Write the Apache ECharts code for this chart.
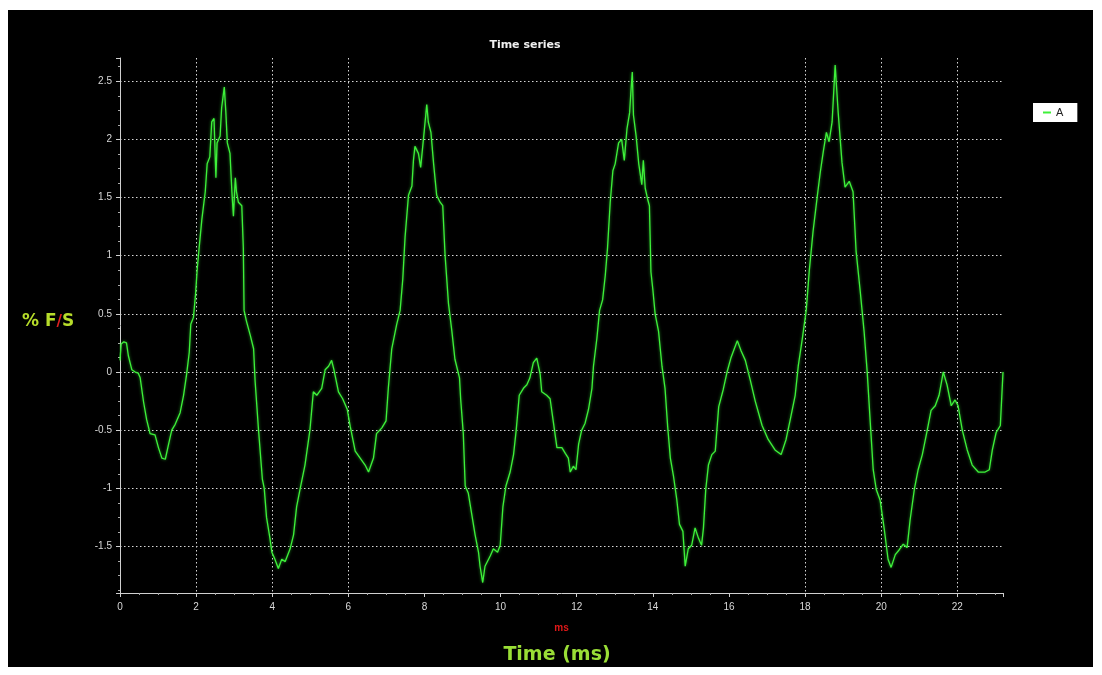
<!DOCTYPE html>
<html><head><meta charset="utf-8">
<script src="https://cdn.jsdelivr.net/npm/echarts@6/dist/echarts.min.js"></script>
<style>
html,body{margin:0;padding:0;background:#fff;width:1102px;height:675px;overflow:hidden}
#c{position:absolute;left:8px;top:10px;width:1085px;height:657px;}
</style>
</head><body><div id="c"></div>
<script>
const chartTitle = 'Time series';
const seriesName = 'A';
const xAxisName = 'ms';
const xTitle = 'Time (ms)';
const xTickValues = [0, 2, 4, 6, 8, 10, 12, 14, 16, 18, 20, 22];
const yTickValues = [-1.5, -1, -0.5, 0, 0.5, 1, 1.5, 2, 2.5];
const xRange = [0, 23.2];
const yRange = [-1.9, 2.7];

const timeMs = [
0.00,0.03,0.10,0.17,0.22,0.31,0.40,0.48,0.53,0.62,0.70,0.79,0.92,1.01,1.10,1.19,1.27,1.36,1.45,1.58,
1.67,1.75,1.82,1.86,1.93,1.98,2.03,2.08,2.15,2.24,2.29,2.36,2.41,2.47,2.52,2.55,2.63,2.67,2.74,2.78,
2.82,2.89,2.94,2.98,3.03,3.06,3.11,3.20,3.24,3.26,3.32,3.42,3.51,3.55,3.64,3.74,3.79,3.85,3.94,3.99,
4.07,4.16,4.25,4.34,4.47,4.56,4.64,4.73,4.86,4.99,5.08,5.17,5.30,5.39,5.48,5.56,5.62,5.74,5.85,5.97,
6.05,6.18,6.31,6.44,6.53,6.66,6.74,6.88,6.99,7.05,7.14,7.27,7.36,7.43,7.49,7.58,7.67,7.71,7.75,7.84,
7.90,7.99,8.06,8.10,8.17,8.24,8.32,8.41,8.48,8.54,8.63,8.72,8.80,8.92,8.95,9.02,9.07,9.15,9.24,9.33,
9.42,9.46,9.53,9.59,9.73,9.81,9.92,9.99,10.06,10.14,10.25,10.34,10.41,10.49,10.60,10.69,10.77,10.86,10.95,11.04,
11.08,11.21,11.30,11.39,11.48,11.61,11.70,11.78,11.83,11.91,11.98,12.05,12.13,12.22,12.31,12.40,12.44,12.53,12.60,12.68,
12.75,12.81,12.88,12.95,13.01,13.10,13.18,13.25,13.32,13.39,13.42,13.46,13.49,13.56,13.63,13.71,13.75,13.80,13.86,13.91,
13.95,14.00,14.06,14.15,14.24,14.32,14.39,14.46,14.54,14.63,14.70,14.79,14.85,14.93,15.02,15.11,15.20,15.28,15.33,15.39,
15.46,15.55,15.64,15.73,15.85,15.95,16.05,16.14,16.22,16.32,16.43,16.56,16.69,16.87,17.03,17.21,17.37,17.50,17.61,17.74,
17.82,17.92,18.03,18.11,18.21,18.32,18.40,18.48,18.56,18.63,18.71,18.79,18.87,18.97,19.05,19.16,19.26,19.34,19.45,19.55,
19.63,19.71,19.79,19.87,19.97,20.08,20.18,20.26,20.37,20.47,20.58,20.68,20.76,20.87,20.97,21.08,21.21,21.31,21.42,21.52,
21.63,21.73,21.84,21.94,22.02,22.13,22.26,22.39,22.55,22.73,22.84,22.92,23.02,23.13,23.20
];
const valueFS = [
0.10,0.24,0.26,0.25,0.14,0.02,0.00,-0.01,-0.05,-0.26,-0.41,-0.53,-0.54,-0.65,-0.74,-0.75,-0.63,-0.50,-0.45,-0.35,
-0.20,-0.02,0.17,0.41,0.47,0.65,0.89,1.07,1.31,1.55,1.79,1.85,2.15,2.18,1.67,1.97,2.03,2.27,2.45,2.24,
1.97,1.88,1.55,1.34,1.67,1.55,1.46,1.43,1.07,0.53,0.44,0.32,0.20,-0.08,-0.50,-0.92,-1.00,-1.25,-1.43,-1.55,
-1.61,-1.69,-1.61,-1.63,-1.52,-1.40,-1.16,-1.01,-0.80,-0.50,-0.17,-0.20,-0.14,0.02,0.05,0.10,0.02,-0.17,-0.23,-0.32,
-0.47,-0.68,-0.74,-0.80,-0.86,-0.74,-0.53,-0.48,-0.42,-0.14,0.20,0.41,0.53,0.80,1.16,1.52,1.60,1.82,1.94,1.88,
1.76,2.06,2.30,2.15,2.06,1.79,1.52,1.46,1.43,1.01,0.59,0.35,0.11,-0.05,-0.23,-0.53,-0.98,-1.04,-1.22,-1.40,
-1.55,-1.67,-1.81,-1.67,-1.58,-1.52,-1.55,-1.49,-1.16,-0.98,-0.86,-0.71,-0.50,-0.20,-0.14,-0.11,-0.05,0.08,0.12,-0.02,
-0.17,-0.20,-0.23,-0.44,-0.65,-0.65,-0.70,-0.74,-0.86,-0.81,-0.84,-0.62,-0.50,-0.44,-0.32,-0.14,0.05,0.29,0.53,0.62,
0.83,1.07,1.46,1.73,1.79,1.97,2.00,1.82,2.09,2.23,2.39,2.58,2.21,2.03,1.79,1.61,1.82,1.58,1.49,1.43,
0.86,0.71,0.50,0.35,0.05,-0.14,-0.47,-0.74,-0.89,-1.10,-1.31,-1.37,-1.67,-1.52,-1.49,-1.34,-1.43,-1.49,-1.34,-1.01,
-0.80,-0.71,-0.68,-0.30,-0.15,0.00,0.12,0.20,0.27,0.18,0.10,-0.07,-0.25,-0.46,-0.58,-0.67,-0.71,-0.58,-0.41,-0.20,
0.05,0.27,0.53,0.87,1.21,1.51,1.72,1.90,2.06,1.98,2.15,2.64,2.23,1.80,1.59,1.64,1.55,1.04,0.69,0.35,
0.01,-0.42,-0.84,-1.01,-1.10,-1.35,-1.61,-1.68,-1.57,-1.53,-1.48,-1.51,-1.27,-1.01,-0.84,-0.71,-0.50,-0.33,-0.29,-0.20,
0.00,-0.11,-0.29,-0.24,-0.29,-0.50,-0.67,-0.80,-0.86,-0.86,-0.84,-0.67,-0.52,-0.46,0.00
];
// vertical grid lines visible in the reference (middle ones are not drawn)
const xGridVisible = [false, true, true, true, false, false, false, false, false, true, true, true, false];

const points = timeMs.map((t, i) => [t, valueFS[i]]);
const gridColor = '#d6d6d6';
const chart = echarts.init(document.getElementById('c'));
const isTick = (v, list) => list.some(t => Math.abs(t - v) < 1e-6);

chart.setOption({
  backgroundColor: '#000',
  animation: false,
  grid: { left: 112, top: 48, right: 90, bottom: 74, containLabel: false },
  legend: {
    data: [seriesName], left: 1025, top: 93, backgroundColor: '#fff',
    padding: [4, 14, 4, 10], borderRadius: 0,
    icon: 'rect', itemWidth: 8, itemHeight: 2, itemGap: 4,
    textStyle: { color: '#222', fontSize: 11, fontFamily: 'Liberation Sans' }
  },
  xAxis: {
    type: 'value', min: xRange[0], max: xRange[1], interval: 2,
    name: xAxisName, nameLocation: 'middle', nameGap: 30,
    nameTextStyle: { color: '#e01818', fontSize: 10, fontWeight: 'bold', fontFamily: 'Liberation Sans' },
    axisLine: { show: true, onZero: false, lineStyle: { color: '#d0d0d0', width: 1 } },
    axisTick: { show: true, length: 4, lineStyle: { color: '#d0d0d0' } },
    minorTick: { show: true, splitNumber: 4, length: 2, lineStyle: { color: '#aaa' } },
    axisLabel: {
      color: '#d8d8d8', fontSize: 10, fontFamily: 'Liberation Sans', margin: 9,
      formatter: v => isTick(v, xTickValues) ? String(v) : ''
    },
    splitLine: { show: true, lineStyle: {
      color: xGridVisible.map(s => s ? gridColor : 'rgba(0,0,0,0)'), type: [1.5, 2.5], width: 1 } }
  },
  yAxis: {
    type: 'value', min: yRange[0], max: yRange[1], splitNumber: 9,
    axisLine: { show: true, onZero: false, lineStyle: { color: '#d0d0d0', width: 1 } },
    axisTick: { show: true, length: 4, lineStyle: { color: '#d0d0d0' } },
    minorTick: { show: true, splitNumber: 4, length: 2, lineStyle: { color: '#aaa' } },
    axisLabel: {
      color: '#d8d8d8', fontSize: 10, fontFamily: 'Liberation Sans', margin: 8,
      formatter: v => isTick(v, yTickValues) ? String(v) : ''
    },
    splitLine: { show: true, showMinLine: false, showMaxLine: false,
      lineStyle: { color: gridColor, type: [1.5, 2.5], width: 1 } }
  },
  graphic: [
    { type: 'text', x: 517, y: 35, style: { text: chartTitle, fill: '#f0f0f0',
      font: 'bold 11px "DejaVu Sans"', align: 'center', verticalAlign: 'middle' } },
    { type: 'text', x: 549, y: 645, style: { text: xTitle, fill: '#9ade36',
      font: 'bold 19px "DejaVu Sans"', align: 'center', verticalAlign: 'middle' } },
    { type: 'text', x: 14, y: 312, style: {
      text: '{g|% F}{r|/}{g|S}', verticalAlign: 'middle', align: 'left',
      rich: {
        g: { fill: '#b6dc2a', font: 'bold 17px "DejaVu Sans"' },
        r: { fill: '#e02020', font: 'bold 15px "DejaVu Sans"' }
      } } }
  ],
  series: [{
    name: seriesName, type: 'line', data: points, showSymbol: false,
    lineStyle: { color: '#3ef03a', width: 1.3, shadowColor: 'rgba(60,255,60,0.6)', shadowBlur: 3 },
    itemStyle: { color: '#3ef03a' }
  }]
});
</script>
</body></html>
